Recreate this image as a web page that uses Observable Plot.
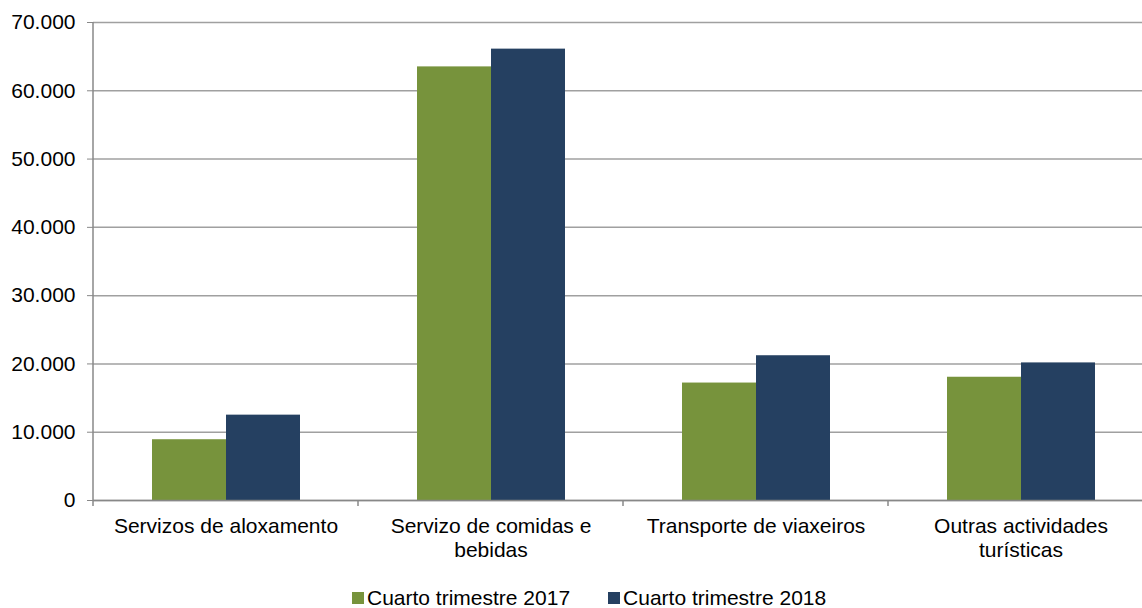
<!DOCTYPE html>
<html>
<head>
<meta charset="utf-8">
<script src="https://cdn.jsdelivr.net/npm/d3@7"></script>
<script src="https://cdn.jsdelivr.net/npm/@observablehq/plot@0.6"></script>
<style>
  html, body { margin: 0; background: #fff; font-family: "Liberation Sans", Arial, sans-serif; overflow: hidden; width: 1142px; }
  #chart { width: 1142px; overflow: hidden; }
  #chart svg { display: block; }
  .legend { display: flex; align-items: center; margin-left: 352px; margin-top: 16px; height: 20px; font-size: 21px; color: #000; white-space: nowrap; }
  .legend .item { display: flex; align-items: center; margin-right: 38px; }
  .legend .sw { width: 12px; height: 12px; margin-right: 3px; }
</style>
</head>
<body>
<div id="chart"></div>
<script>
const categories = ["Servizos de aloxamento", "Servizo de comidas e bebidas", "Transporte de viaxeiros", "Outras actividades turísticas"];
const tickLabels = ["Servizos de aloxamento", "Servizo de comidas e\nbebidas", "Transporte de viaxeiros", "Outras actividades\nturísticas"];
const series = ["Cuarto trimestre 2017", "Cuarto trimestre 2018"];
const values2017 = [8900, 63500, 17200, 18050];
const values2018 = [12500, 66100, 21200, 20150];
const colors = ["#77933C", "#254061"];
const yTicks = [0, 10000, 20000, 30000, 40000, 50000, 60000, 70000];

const data = [];
categories.forEach((c, i) => {
  data.push({category: c, series: series[0], value: values2017[i]});
  data.push({category: c, series: series[1], value: values2018[i]});
});

const fmt = d3.formatLocale({decimal: ",", thousands: ".", grouping: [3], currency: ["", ""]}).format(",");

const W = 1153, H = 572, mL = 93, mR = 0, mT = 22, mB = 72;

const plot = Plot.plot({
  width: W, height: H,
  marginLeft: mL, marginRight: mR, marginTop: mT, marginBottom: mB,
  style: {fontFamily: "Liberation Sans, Arial, sans-serif", fontSize: "21px", color: "#000", background: "#fff", maxWidth: "none"},
  fx: {domain: categories, padding: 0, label: null},
  x: {domain: series, paddingInner: 0, paddingOuter: 0.767, axis: null},
  y: {domain: [0, 70000], label: null},
  color: {domain: series, range: colors},
  marks: [
    Plot.gridY(yTicks, {stroke: "#a0a0a0", strokeOpacity: 1, strokeWidth: 1.5}),
    Plot.barY(data, {fx: "category", x: "series", y: "value", fill: "series"}),
    Plot.ruleY([0], {stroke: "#888", strokeWidth: 1.5}),
    Plot.axisY(yTicks, {tickSize: 6, tickPadding: 12, tickFormat: fmt, stroke: "#888", fill: "#000", fontSize: 21, label: null}),
    Plot.axisFx({anchor: "bottom", tickSize: 0, tickPadding: 15, fontSize: 21, fill: "#000", lineHeight: 1.15, label: null,
      tickFormat: c => tickLabels[categories.indexOf(c)]})
  ]
});

// axis line on the left and category boundary ticks
const svg = d3.select(plot);
const g = svg.append("g").attr("stroke", "#888").attr("stroke-width", 1.5);
g.append("line").attr("x1", mL).attr("x2", mL).attr("y1", mT).attr("y2", H - mB);
const step = (W - mL - mR) / categories.length;
for (let i = 0; i <= categories.length; i++) {
  const x = mL + i * step;
  g.append("line").attr("x1", x).attr("x2", x).attr("y1", H - mB).attr("y2", H - mB + 6);
}

document.getElementById("chart").appendChild(plot);

const legend = document.createElement("div");
legend.className = "legend";
series.forEach((s, i) => {
  const item = document.createElement("div");
  item.className = "item";
  const sw = document.createElement("span");
  sw.className = "sw";
  sw.style.background = colors[i];
  const t = document.createElement("span");
  t.textContent = s;
  item.appendChild(sw);
  item.appendChild(t);
  legend.appendChild(item);
});
document.getElementById("chart").appendChild(legend);
</script>
</body>
</html>
